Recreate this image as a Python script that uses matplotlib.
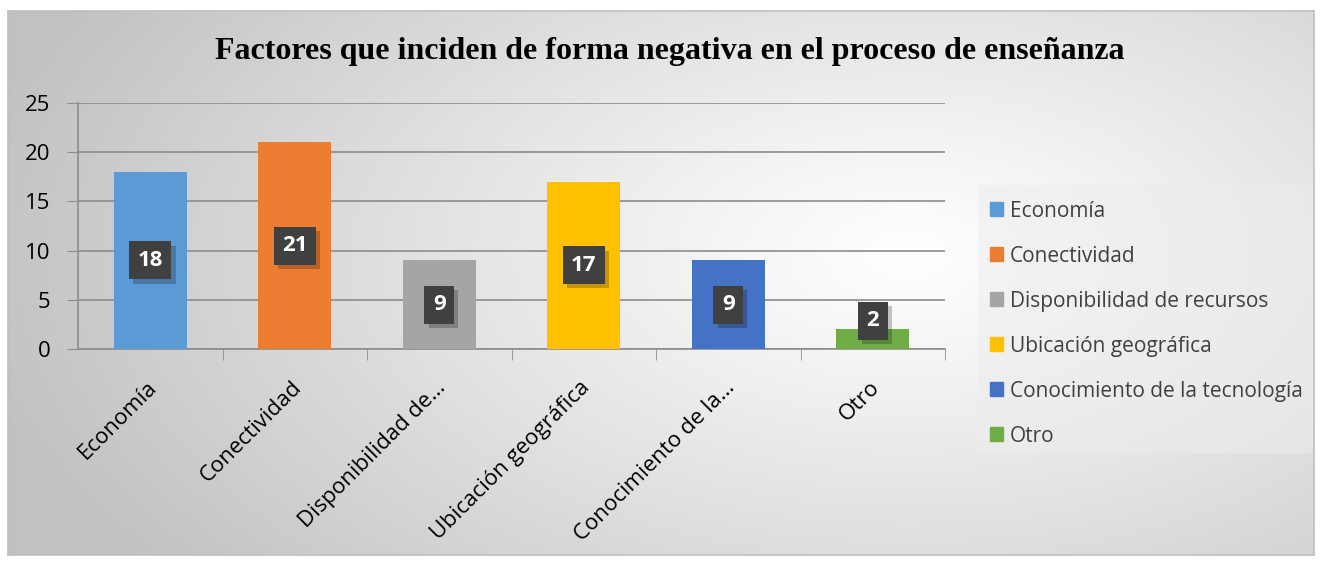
import matplotlib
matplotlib.use("Agg")
import matplotlib.pyplot as plt
import matplotlib.patheffects as pe
import matplotlib.transforms as mtransforms
import numpy as np

# datos
categorias = ["Economía", "Conectividad", "Disponibilidad de recursos",
              "Ubicación geográfica", "Conocimiento de la tecnología", "Otro"]
etiquetas_x = ["Economía", "Conectividad", "Disponibilidad de…",
               "Ubicación geográfica", "Conocimiento de la…", "Otro"]
valores = [18, 21, 9, 17, 9, 2]
colores = ["#5B9BD5", "#ED7D31", "#A5A5A5", "#FFC000", "#4472C4", "#70AD47"]
titulo = "Factores que inciden de forma negativa en el proceso de enseñanza"

W, H = 1321, 561
fig = plt.figure(figsize=(W / 100, H / 100), dpi=100)
fig.patch.set_facecolor("white")

# fondo degradado del grafico
bg = fig.add_axes([8 / W, 6 / H, 1306 / W, 544 / H], zorder=-5)
xx, yy = np.meshgrid(np.linspace(0, 1306, 400), np.linspace(0, 544, 200))
cx, cy = 900, 300
d = np.sqrt(((xx - cx) / 950) ** 2 + ((yy - cy) / 520) ** 2)
g = 1 - 0.24 * np.clip(d, 0, 1) ** 1.1
bg.imshow(np.dstack([g, g, g]), aspect="auto", extent=[0, 1, 0, 1],
          origin="lower")
bg.set_xticks([])
bg.set_yticks([])
for s in bg.spines.values():
    s.set_color("#bfbfbf")
    s.set_linewidth(1.2)

# zona del legend
leg_bg = fig.add_axes([978 / W, 1 - 453 / H, 335 / W, 268 / H], zorder=-4)
leg_bg.set_facecolor((0.93, 0.93, 0.93, 0.55))
leg_bg.set_xticks([])
leg_bg.set_yticks([])
for s in leg_bg.spines.values():
    s.set_visible(False)

ax = fig.add_axes([78 / W, 1 - 349 / H, 867 / W, 246 / H])
ax.patch.set_alpha(0)
x = np.arange(len(valores))
ax.bar(x, valores, width=0.505, color=colores, zorder=3)

ax.set_xlim(-0.5, len(valores) - 0.5)
ax.set_ylim(0, 25)
ax.set_yticks(range(0, 26, 5))
ax.yaxis.grid(True, color="#8c8c8c", linewidth=1.2, zorder=0)
for s in ["top", "right"]:
    ax.spines[s].set_visible(False)
for s in ["left", "bottom"]:
    ax.spines[s].set_color("#8c8c8c")
    ax.spines[s].set_linewidth(1.2)
ax.tick_params(axis="y", length=8, color="#8c8c8c", labelsize=16,
               labelcolor="black", pad=12)
ax.set_xticks(x)
ax.set_xticklabels(etiquetas_x, rotation=45, ha="right",
                   rotation_mode="anchor", fontsize=16)
ax.tick_params(axis="x", length=0, pad=20)
ax.set_xticks(np.arange(0.5, len(valores) - 0.5 + 1, 1), minor=True)
ax.tick_params(axis="x", which="minor", length=8, color="#8c8c8c")
desplaza = mtransforms.ScaledTranslation(-4 / 100, 0, fig.dpi_scale_trans)
for lbl in ax.get_xticklabels():
    lbl.set_transform(lbl.get_transform() + desplaza)
for lbl in ax.get_yticklabels() + ax.get_xticklabels():
    lbl.set_family("Open Sans")

# etiquetas de datos
for xi, v in zip(x, valores):
    t = ax.text(xi, max(v / 2, 2.85), str(v), ha="center", va="center",
                color="white", fontsize=16, fontweight="bold",
                family="Open Sans", zorder=5,
                bbox=dict(boxstyle="square,pad=0.38", fc="#404040",
                          ec="none"))
    t.get_bbox_patch().set_path_effects(
        [pe.SimplePatchShadow(offset=(3, -3), shadow_rgbFace="black",
                              alpha=0.22), pe.Normal()])

# leyenda
handles = [plt.Rectangle((0, 0), 1, 1, color=c) for c in colores]
leg = fig.legend(handles, categorias, loc="upper left",
                 bbox_to_anchor=(971 / W, 1 - 182 / H), frameon=False,
                 prop={"family": "Open Sans", "size": 15},
                 handlelength=0.65, handleheight=0.65, handletextpad=0.3,
                 labelspacing=1.15, labelcolor="#404040")

fig.text(670 / W, 1 - 52 / H, titulo, ha="center", va="center",
         fontsize=23, fontweight="bold", family="Liberation Serif")

fig.savefig("out.png", dpi=100)
